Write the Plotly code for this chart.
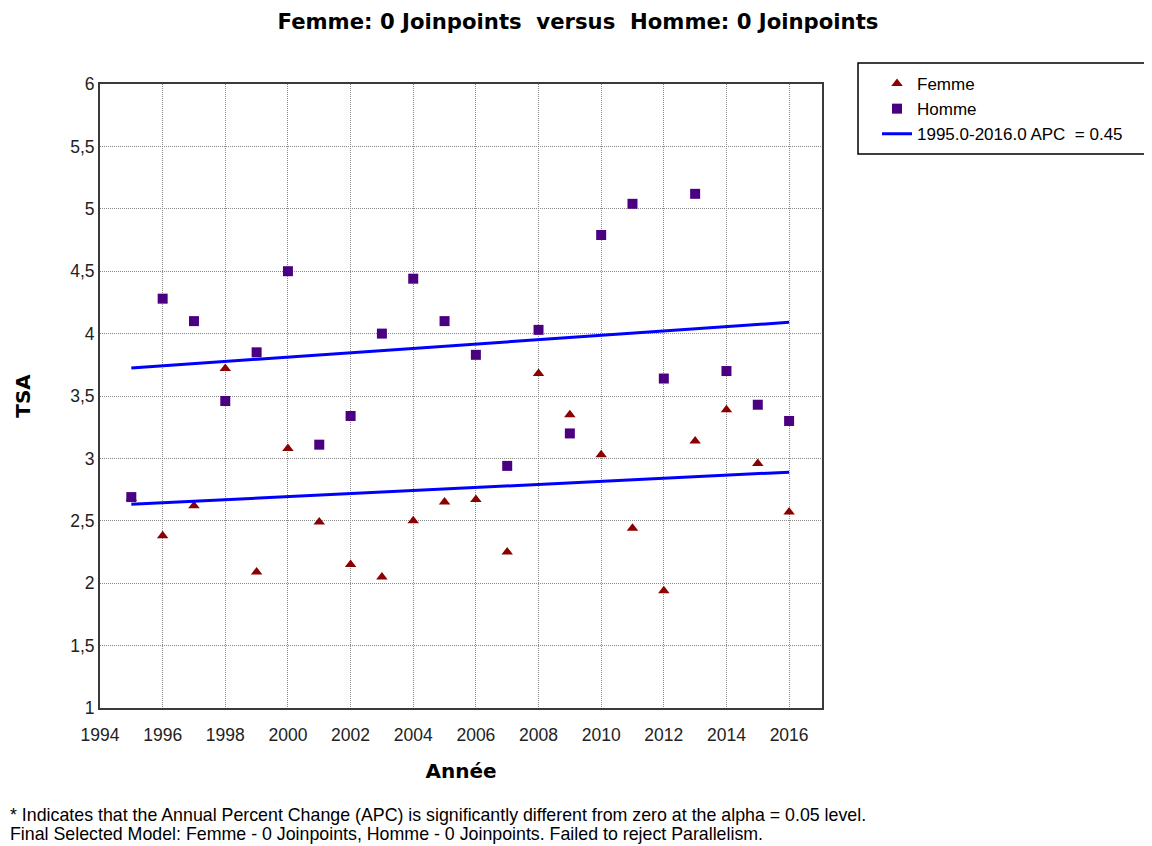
import plotly.graph_objects as go

years = list(range(1995, 2017))
femme = [2.68, 2.38, 2.62, 3.72, 2.09, 3.08, 2.49, 2.15, 2.05, 2.50, 2.65,
         2.67, 2.25, 3.68, 3.35, 3.03, 2.44, 1.94, 3.14, 3.39, 2.96, 2.57]
homme = [2.69, 4.28, 4.10, 3.46, 3.85, 4.50, 3.11, 3.34, 4.00, 4.44, 4.10,
         3.83, 2.94, 4.03, 3.20, 4.79, 5.04, 3.64, 5.12, 3.70, 3.43, 3.30]
fit_years = [1995, 2016]
fit_homme = [3.725, 4.09]
fit_femme = [2.632, 2.89]
x_ticks = list(range(1994, 2017, 2))
y_ticks = [1, 1.5, 2, 2.5, 3, 3.5, 4, 4.5, 5, 5.5, 6]
y_tick_labels = ["1", "1,5", "2", "2,5", "3", "3,5", "4", "4,5", "5", "5,5", "6"]

# Figure is drawn with an 8px page offset: use 1144x838 so it fills the window
W, H = 1144, 838
PL, PT, PR, PB = 92, 76, 814, 700  # plot area in figure pixels
pw, ph = PR - PL, PB - PT


def px(x):
    return (x - PL) / pw


def py(y):
    return (PB - y) / ph


REG = "Liberation Sans, Arial"
BOLD = "DejaVu Sans"

fig = go.Figure()
fig.add_trace(go.Scatter(x=years, y=femme, mode="markers", name="Femme",
                         marker=dict(symbol="triangle-up", size=10, color="#8B0000")))
fig.add_trace(go.Scatter(x=years, y=homme, mode="markers", name="Homme",
                         marker=dict(symbol="square", size=10, color="#4B0082")))
fig.add_trace(go.Scatter(x=fit_years, y=fit_homme, mode="lines",
                         name="1995.0-2016.0 APC  = 0.45",
                         line=dict(color="#0000FF", width=3)))
fig.add_trace(go.Scatter(x=fit_years, y=fit_femme, mode="lines", showlegend=False,
                         line=dict(color="#0000FF", width=3)))

axis_common = dict(showgrid=True, gridcolor="#8a8a8a", griddash="1px,1px", gridwidth=1,
                   showline=True, linecolor="#3a3a3a", linewidth=2, mirror=True,
                   zeroline=False, ticks="",
                   tickfont=dict(family=REG, size=17.5, color="#222"))

fig.update_layout(
    width=W, height=H,
    paper_bgcolor="white", plot_bgcolor="white",
    margin=dict(l=PL, r=W - PR, t=PT, b=H - PB),
    separators=", ",
    title=dict(text="<b>Femme: 0 Joinpoints  versus  Homme: 0 Joinpoints</b>",
               x=570 / W, xanchor="center", y=1 - 14 / H, yanchor="middle",
               font=dict(family=BOLD, size=21.2, color="black")),
    xaxis=dict(range=[1994, 2017.05], tickvals=x_ticks, ticklabelstandoff=10,
               title=dict(text="<b>Année</b>", standoff=20,
                          font=dict(family=BOLD, size=20, color="black")),
               **axis_common),
    yaxis=dict(range=[1, 6], tickvals=y_ticks, ticktext=y_tick_labels, ticklabelstandoff=0,
               title=dict(text="<b>TSA</b>", standoff=34,
                          font=dict(family=BOLD, size=20, color="black")),
               **axis_common),
    showlegend=True,
    legend=dict(x=px(869), y=py(58), xanchor="left", yanchor="top",
                bgcolor="rgba(0,0,0,0)", borderwidth=0, tracegroupgap=0,
                font=dict(family=REG, size=17, color="black")),
    shapes=[dict(type="rect", xref="paper", yref="paper",
                 x0=px(850), x1=px(1143),
                 y0=py(146), y1=py(55),
                 line=dict(color="black", width=1.5), fillcolor="rgba(0,0,0,0)")],
    annotations=[
        dict(text="* Indicates that the Annual Percent Change (APC) is significantly different from zero at the alpha = 0.05 level.",
             xref="paper", yref="paper", x=px(0), y=py(807),
             xanchor="left", yanchor="middle", showarrow=False, align="left",
             font=dict(family=REG, size=17.8, color="black")),
        dict(text="Final Selected Model: Femme - 0 Joinpoints, Homme - 0 Joinpoints. Failed to reject Parallelism.",
             xref="paper", yref="paper", x=px(0), y=py(826),
             xanchor="left", yanchor="middle", showarrow=False, align="left",
             font=dict(family=REG, size=17.8, color="black")),
    ],
)

fig.write_html("out.html")
